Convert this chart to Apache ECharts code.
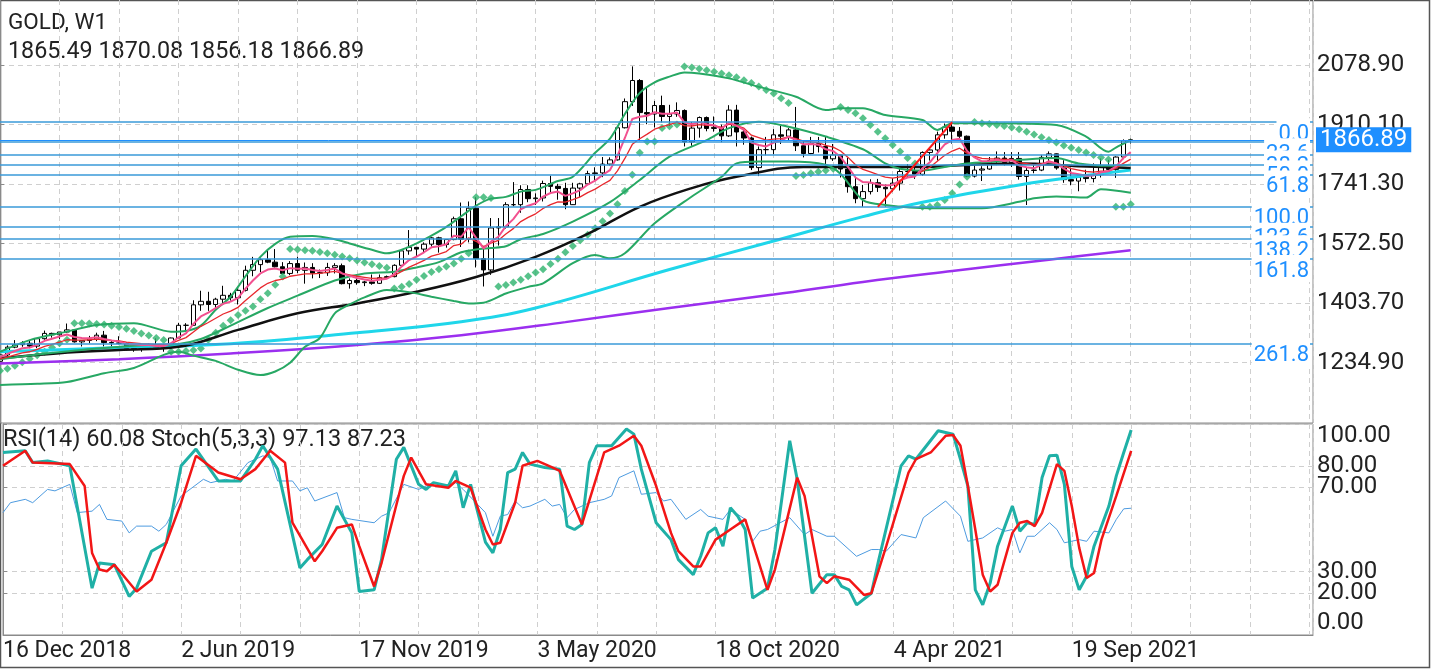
<!DOCTYPE html>
<html>
<head>
<meta charset="utf-8">
<title>GOLD, W1</title>
<script src="https://cdn.jsdelivr.net/npm/echarts@6.0.0/dist/echarts.min.js"></script>
<style>
  html, body { margin: 0; padding: 0; background: #fff; }
  #chart { width: 1431px; height: 669px; }
</style>
</head>
<body>
<div id="chart"></div>
<script>
// weekly bars, week 0 = 16 Dec 2018
const dateLabels = ['16 Dec 2018', '2 Jun 2019', '17 Nov 2019', '3 May 2020', '18 Oct 2020', '4 Apr 2021', '19 Sep 2021'];
const weeksPerLabel = 24;

const opens = [1239,1257,1279,1286,1290,1282,1303,1318,1314,1322,1328,1294,1298,1302,1313,1292,1291,1290,1275,1286,
  1280,1286,1277,1283,1305,1341,1341,1399,1409,1400,1415,1426,1419,1440,1497,1513,1527,1520,1507,1488,
  1516,1497,1505,1489,1490,1505,1510,1459,1468,1462,1464,1460,1476,1479,1511,1552,1562,1557,1571,1589,
  1570,1584,1643,1585,1673,1530,1498,1617,1620,1683,1683,1726,1700,1702,1743,1735,1729,1683,1730,1742,
  1771,1773,1798,1810,1901,1975,2035,1944,1940,1964,1933,1940,1950,1861,1900,1930,1899,1902,1878,1951,
  1889,1872,1788,1839,1839,1881,1877,1895,1850,1828,1856,1848,1813,1824,1784,1734,1700,1720,1745,1732,
  1728,1744,1777,1777,1769,1831,1838,1881,1903,1891,1877,1764,1781,1784,1808,1815,1802,1814,1763,1780,
  1781,1817,1827,1787,1754,1750,1761,1757,1768,1793,1783,1818,1865.49];
const highs = [1260,1284,1299,1296,1298,1304,1326,1320,1322,1346,1330,1299,1311,1320,1325,1297,1310,1292,1288,1288,
  1289,1304,1287,1306,1348,1347,1412,1439,1436,1419,1453,1433,1449,1510,1535,1531,1555,1557,1520,1523,
  1535,1519,1517,1499,1518,1517,1516,1474,1480,1467,1485,1485,1482,1514,1553,1611,1563,1576,1591,1592,
  1584,1649,1689,1692,1704,1560,1645,1645,1690,1747,1738,1738,1715,1751,1765,1742,1745,1745,1745,1779,
  1789,1818,1817,1902,1984,2075,2039,2015,1977,1992,1966,1973,1953,1917,1933,1933,1933,1910,1965,1966,
  1898,1876,1848,1875,1897,1906,1900,1960,1865,1875,1875,1875,1855,1825,1816,1760,1739,1755,1756,1740,
  1758,1785,1798,1790,1834,1845,1890,1913,1917,1903,1879,1795,1792,1818,1834,1832,1832,1832,1788,1795,
  1824,1834,1828,1809,1788,1764,1782,1800,1814,1810,1820,1868,1870.08];
const lows = [1236,1254,1276,1280,1276,1276,1300,1306,1302,1320,1292,1281,1290,1296,1281,1281,1287,1270,1266,1266,
  1278,1274,1266,1278,1305,1322,1339,1382,1382,1386,1402,1411,1400,1437,1480,1492,1517,1505,1485,1483,
  1489,1459,1474,1475,1481,1488,1457,1445,1456,1452,1456,1458,1473,1477,1508,1541,1536,1546,1564,1547,
  1561,1582,1563,1576,1505,1451,1484,1567,1615,1678,1660,1690,1682,1692,1717,1697,1670,1682,1705,1740,
  1748,1761,1794,1808,1899,1963,1863,1911,1902,1916,1906,1932,1848,1850,1873,1891,1890,1860,1875,1848,
  1853,1781,1764,1823,1826,1855,1864,1835,1817,1826,1831,1785,1807,1760,1717,1687,1677,1712,1719,1677,
  1720,1723,1762,1756,1765,1808,1808,1870,1856,1866,1761,1760,1750,1782,1795,1794,1790,1754,1682,1772,
  1778,1803,1782,1745,1738,1721,1746,1746,1760,1770,1759,1812,1856.18];
const closes = [1257,1279,1286,1290,1282,1303,1318,1314,1322,1328,1294,1298,1302,1313,1292,1291,1290,1275,1286,1280,
  1286,1277,1283,1305,1341,1341,1399,1409,1400,1415,1426,1419,1440,1497,1513,1527,1520,1507,1488,1516,
  1497,1505,1489,1490,1505,1510,1459,1468,1462,1464,1460,1476,1479,1511,1552,1562,1557,1571,1589,1570,
  1584,1643,1585,1673,1530,1498,1617,1620,1683,1683,1726,1700,1702,1743,1735,1729,1683,1730,1742,1771,
  1773,1798,1810,1901,1975,2035,1944,1940,1964,1933,1940,1950,1861,1900,1930,1899,1902,1878,1951,1889,
  1872,1788,1839,1839,1881,1877,1895,1850,1828,1856,1848,1813,1824,1784,1734,1700,1720,1745,1732,1728,
  1744,1777,1777,1769,1831,1838,1881,1903,1891,1877,1764,1781,1784,1808,1815,1802,1814,1763,1780,1781,
  1817,1827,1787,1754,1750,1761,1757,1768,1793,1783,1818,1864,1866.89];

// moving averages, [week, price]
const ma200 = [[0,1233],[16,1245],[31,1261],[48,1285],[62,1313],[76,1350],[90,1390],[104,1428],[116,1464],[128,1495],[141,1527],[152,1554]];
const ma100 = [[0,1266],[16,1278],[31,1289],[48,1320],[62,1351],[72,1390],[90,1499],[104,1580],[116,1649],[124,1690],[137,1739],[152,1781]];
const ma50 = [[0,1248],[8,1262],[16,1271],[24,1280],[32,1328],[40,1375],[48,1403],[56,1436],[64,1478],[72,1535],[79,1600],
  [86,1677],[93,1730],[99,1762],[108,1790],[116,1790],[124,1790],[129,1795],[137,1800],[145,1792],[152,1787]];
const fastMa = [1250,1260,1268,1276,1278,1286,1297,1303,1309,1315,1308,1305,1304,1307,1302,1298,1295,1288,1287,1285,
  1285,1282,1282,1290,1307,1318,1345,1366,1377,1390,1402,1408,1419,1445,1468,1488,1499,1502,1497,1503,
  1501,1502,1498,1495,1498,1502,1488,1481,1475,1471,1467,1470,1473,1486,1508,1526,1536,1548,1562,1565,
  1571,1595,1592,1619,1589,1559,1578,1592,1622,1642,1670,1680,1687,1706,1716,1720,1708,1715,1724,1740,
  1751,1767,1781,1821,1872,1926,1932,1935,1945,1941,1941,1944,1916,1911,1917,1911,1908,1898,1916,1907,
  1895,1859,1852,1848,1859,1865,1875,1867,1854,1855,1853,1840,1835,1818,1790,1760,1747,1746,1741,1737,
  1739,1752,1760,1763,1786,1803,1829,1854,1866,1870,1835,1817,1806,1807,1810,1807,1809,1794,1789,1786,
  1796,1806,1800,1785,1773,1769,1765,1766,1775,1778,1791,1815,1832];
const slowMa = [1245,1251,1257,1263,1266,1273,1281,1287,1293,1300,1299,1299,1300,1302,1300,1298,1297,1293,1291,1289,
  1288,1286,1286,1289,1298,1306,1322,1338,1349,1361,1373,1381,1392,1411,1429,1447,1460,1468,1472,1480,
  1483,1487,1487,1488,1491,1494,1488,1484,1480,1477,1474,1475,1475,1482,1494,1506,1515,1525,1537,1543,
  1550,1567,1571,1589,1579,1564,1574,1582,1600,1615,1635,1647,1657,1672,1683,1691,1690,1697,1705,1717,
  1727,1740,1752,1779,1814,1854,1870,1883,1897,1904,1910,1917,1907,1906,1910,1908,1907,1902,1911,1907,
  1900,1880,1873,1866,1869,1870,1875,1870,1863,1861,1859,1851,1846,1835,1817,1796,1783,1776,1768,1761,
  1758,1762,1765,1766,1778,1789,1806,1823,1835,1843,1829,1820,1814,1813,1813,1811,1811,1802,1799,1796,
  1799,1804,1801,1793,1785,1781,1777,1775,1778,1778,1786,1800,1812];

// bollinger bands
const bbUpper = [[0,1266],[4,1299],[9,1323],[13,1342],[18,1347],[23,1323],[25,1325],[27,1340],[29,1385],[31,1422],[33,1480],
  [35,1535],[37,1572],[39,1592],[42,1594],[45,1585],[47,1573],[50,1555],[52,1545],[54,1555],[56,1573],[58,1595],[60,1620],
  [62,1650],[64,1680],[66,1700],[68,1705],[70,1720],[72,1725],[75,1750],[77,1762],[80,1830],[82,1870],[84,1940],[86,2000],
  [88,2030],[90,2046],[92,2058],[94,2055],[98,2041],[102,2017],[107,1989],[111,1951],[113,1956],[116,1956],[119,1937],
  [124,1923],[126,1895],[128,1914],[133,1914],[142,1909],[146,1876],[149,1833],[150,1845],[152,1866]];
const bbMiddle = [[0,1245],[6,1260],[13,1275],[20,1285],[24,1288],[27,1302],[31,1340],[36,1390],[40,1425],[45,1468],[49,1488],
  [53,1493],[56,1505],[59,1520],[62,1548],[64,1556],[66,1560],[68,1565],[70,1585],[73,1600],[77,1635],[82,1690],[86,1753],
  [90,1819],[95,1866],[98,1900],[102,1918],[106,1904],[111,1876],[116,1840],[119,1800],[121,1785],[124,1780],[127,1790],
  [130,1800],[134,1805],[137,1810],[142,1815],[145,1800],[149,1793],[152,1796]];
const bbLower = [[0,1172],[5,1175],[9,1180],[14,1205],[18,1220],[22,1257],[24,1266],[26,1255],[29,1240],[32,1215],[35,1200],
  [37,1210],[39,1235],[41,1280],[43,1305],[45,1375],[47,1400],[49,1420],[52,1441],[55,1435],[58,1422],[61,1410],[63,1403],
  [65,1405],[68,1431],[71,1450],[73,1460],[77,1517],[80,1540],[82,1531],[84,1545],[88,1630],[93,1706],[97,1762],[99,1800],
  [102,1805],[106,1805],[111,1796],[113,1770],[116,1696],[119,1682],[125,1673],[132,1673],[137,1691],[139,1701],[142,1706],
  [146,1703],[148,1727],[152,1717]];

// parabolic SAR, one dot per week
const sar = [1212,1218,1226,1236,1246,1256,1266,1278,1290,1300,
  1347,1347,1346,1345,1343,1340,1336,1331,1325,1318,1312,1305,1299,
  1266,1266,1268,1270,1275,1300,1320,1340,1355,1370,1382,1394,1415,1432,1456,1479,
  1557,1556,1554,1552,1549,1545,1541,1536,1531,1525,1519,1514,1509,1504,
  1445,1450,1458,1470,1481,1492,1500,1508,1516,1530,1545,
  1704,1704,1702,
  1451,1455,1462,1470,1480,1491,1500,1515,1530,1548,1566,1582,1598,1616,1636,1658,1684,1722,1768,1830,1862,1862,1900,1905,1910,
  2075,2072,2068,2064,2060,2055,2050,2044,2036,2028,2018,2008,1998,1985,1971,
  1764,1767,1772,1776,1780,1785,
  1960,1951,1942,1928,1909,1890,1871,1852,1834,1815,1800,
  1677,1677,1682,1696,1715,1740,1762,
  1917,1914,1912,1909,1906,1902,1897,1890,1882,1874,1866,1859,1851,1844,1838,1831,1824,1817,1811,
  1677,1677,1684];

// fibonacci retracement (high 1916.64, low 1676.87)
const fibLabels = ['0.0', '23.6', '38.2', '50.0', '61.8', '100.0', '123.6', '138.2', '161.8', '261.8'];
const fibPrices = [1916.64, 1860.05, 1825.05, 1796.76, 1768.46, 1676.87, 1620.28, 1585.28, 1528.69, 1288.92];
const fibAnchor = [[118, 1676.87], [128, 1916.64]];
const lastPrice = 1866.89;
const priceTicks = [1234.90, 1403.70, 1572.50, 1741.30, 1910.10, 2078.90];

// lower pane
const stochK = [[0,86.5],[3,87.3],[4,81.7],[6,82.5],[9,80.2],[12,22.2],[13,34.1],[15,33.3],[17,18.3],[18,22.2],[20,39.7],
  [22,43.7],[24,80.2],[26,88.1],[29,73.0],[32,73.0],[34,83.3],[35,89.7],[37,78.6],[40,31.8],[41,35.7],[43,42.9],[45,61.1],
  [47,48.4],[48,20.6],[50,21.4],[51,35.7],[53,83.3],[54,88.9],[56,71.4],[57,69.0],[58,72.2],[60,70.6],[61,77.8],[62,60.3],
  [63,71.4],[65,44.0],[66,38.9],[67,50.0],[68,77.0],[69,78.6],[70,86.5],[71,81.0],[73,79.4],[75,78.6],[76,51.6],[77,50.0],
  [78,52.4],[79,81.7],[80,89.7],[82,89.7],[84,97.6],[85,95.2],[86,78.6],[88,53.2],[90,45.2],[91,35.7],[93,28.6],[94,37.3],
  [95,48.4],[96,50.8],[97,42.1],[98,60.3],[99,56.3],[100,50.0],[101,17.5],[103,22.2],[104,40.5],[106,92.1],[107,73.8],
  [109,19.8],[111,28.6],[112,28.6],[113,23.0],[114,21.4],[115,14.3],[117,19.8],[118,35.7],[121,80.2],[122,84.9],[123,83.3],
  [126,96.8],[127,96.0],[128,95.2],[129,83.3],[130,70.6],[131,21.4],[132,14.3],[133,24.6],[134,42.1],[136,61.1],[137,49.2],
  [138,53.2],[139,52.4],[140,74.6],[141,84.9],[142,85.2],[143,71.4],[144,32.5],[145,21.4],[146,27.8],[147,42.1],[149,61.1],
  [150,75.4],[151,86.5],[152,97.13]];
const stochD = [[0,80.2],[3,87.3],[4,81.7],[9,81.0],[11,70.6],[12,38.9],[13,31.0],[14,30.2],[15,33.3],[18,20.6],[20,26.2],
  [22,43.7],[24,62.7],[26,84.9],[29,77.0],[32,73.8],[34,78.6],[36,87.3],[38,81.7],[39,53.2],[42,34.9],[43,39.7],[45,50.8],
  [47,52.4],[48,42.1],[50,23.0],[51,34.1],[54,75.4],[55,84.1],[57,71.4],[60,69.8],[61,73.0],[63,69.8],[65,50.0],[66,42.9],
  [67,43.7],[69,62.7],[70,80.2],[72,82.5],[74,79.4],[75,77.8],[78,52.4],[81,86.5],[83,89.7],[85,94.4],[86,89.7],[88,70.6],
  [90,48.4],[91,39.7],[93,32.5],[94,32.5],[96,45.2],[98,50.0],[100,54.8],[103,21.4],[104,31.0],[107,74.6],[108,65.9],
  [110,27.8],[111,24.6],[112,27.8],[114,26.2],[116,19.0],[117,19.8],[119,42.1],[122,77.0],[123,83.3],[125,86.5],[127,94.4],
  [128,94.8],[129,89.7],[130,70.6],[131,50.0],[132,28.6],[133,20.6],[134,23.8],[136,48.4],[137,53.2],[138,54.0],[139,51.6],
  [140,57.9],[142,81.0],[143,77.8],[144,61.1],[145,41.3],[146,27.0],[147,29.4],[148,45.2],[150,65.9],[152,87.23]];
const rsi = [[0,58.0],[1,62.7],[3,64.3],[4,62.7],[6,69.0],[7,68.3],[9,71.4],[10,58.0],[12,58.7],[13,61.9],[14,54.8],[16,54.0],
  [17,48.4],[18,51.6],[20,51.6],[21,49.2],[22,52.4],[24,65.9],[27,73.8],[28,72.2],[30,73.8],[31,73.0],[33,81.7],[35,84.9],
  [36,84.1],[37,73.0],[39,73.0],[40,68.3],[41,69.8],[42,63.5],[45,67.5],[46,55.6],[47,54.8],[50,53.2],[51,56.3],[52,57.9],
  [54,71.4],[56,69.0],[58,72.2],[60,70.6],[61,72.2],[62,69.0],[65,58.0],[66,46.8],[67,56.3],[68,57.1],[69,63.5],[70,60.3],
  [71,61.1],[73,64.3],[74,61.1],[75,61.9],[76,55.6],[77,59.5],[79,62.7],[81,64.3],[82,65.9],[83,74.6],[85,77.8],[86,66.7],
  [88,67.5],[89,63.5],[90,64.3],[92,54.8],[94,59.5],[95,56.3],[97,54.8],[98,59.5],[100,54.8],[101,44.4],[102,49.2],
  [103,50.0],[106,55.6],[108,47.6],[109,50.0],[111,46.8],[112,46.8],[115,37.3],[117,40.5],[118,40.5],[119,39.7],[121,47.6],
  [123,46.0],[124,55.6],[127,63.5],[129,56.3],[130,44.4],[132,46.0],[134,50.8],[135,49.2],[136,50.0],[137,38.9],[138,46.8],
  [139,46.8],[141,53.2],[142,50.0],[143,43.7],[145,45.2],[146,44.4],[147,49.2],[149,48.4],[150,54.8],[151,59.8],[152,60.08]];
const oscTicks = [0, 20, 30, 70, 80, 100];

const FONT = 'Roboto';
const gridLine = { show: true, lineStyle: { color: '#cfcfcf', type: [5, 4], width: 1 } };

function line(name, data, color, width, extra) {
  return Object.assign({
    name: name, type: 'line', data: data, showSymbol: false, symbol: 'none',
    lineStyle: { color: color, width: width }, silent: true
  }, extra || {});
}

const chart = echarts.init(document.getElementById('chart'));
chart.setOption({
  animation: false,
  backgroundColor: '#fff',
  textStyle: { fontFamily: FONT },
  grid: [
    { left: 0, top: 0, width: 1313, height: 423, show: true, borderColor: '#8a8a8a', borderWidth: 1 },
    { left: 0, top: 424, width: 1313, height: 211, show: true, borderColor: '#8a8a8a', borderWidth: 1 }
  ],
  xAxis: [
    { type: 'value', gridIndex: 0, min: 0, max: 176.5, interval: 8,
      axisLine: { show: false }, axisTick: { show: false }, axisLabel: { show: false }, splitLine: gridLine },
    { type: 'value', gridIndex: 1, min: 0, max: 176.5, interval: 8,
      axisLine: { show: true, lineStyle: { color: '#8a8a8a' } }, axisTick: { show: false },
      axisLabel: {
        color: '#222', fontSize: 23, fontFamily: FONT, align: 'left', margin: 5,
        formatter: function (v) {
          const k = v / weeksPerLabel;
          return (Number.isInteger(k) && k < dateLabels.length) ? dateLabels[k] : '';
        }
      },
      splitLine: gridLine }
  ],
  yAxis: [
    { type: 'value', gridIndex: 0, position: 'right', min: 1064, max: 2263.2,
      axisLine: { show: true, lineStyle: { color: '#8a8a8a' } },
      axisTick: { show: true, length: 4, customValues: priceTicks, lineStyle: { color: '#8a8a8a' } },
      axisLabel: { customValues: priceTicks, color: '#222', fontSize: 24, fontFamily: FONT, margin: 4,
        formatter: function (v) { return v.toFixed(2); } },
      splitLine: gridLine },
    { type: 'value', gridIndex: 1, position: 'right', min: 0, max: 100,
      axisLine: { show: true, lineStyle: { color: '#8a8a8a' } },
      axisTick: { show: true, length: 4, customValues: oscTicks, lineStyle: { color: '#8a8a8a' } },
      axisLabel: { customValues: oscTicks, color: '#222', fontSize: 24, fontFamily: FONT, margin: 4,
        verticalAlignMinLabel: 'bottom', verticalAlignMaxLabel: 'top',
        formatter: function (v) { return v.toFixed(2); } },
      splitLine: gridLine }
  ],
  series: [
    {
      // level captions; each white box hides the lower part of the caption above it
      name: 'fib captions', type: 'line', data: [], xAxisIndex: 0, yAxisIndex: 0, clip: false, silent: true,
      markLine: {
        silent: true, symbol: ['none', 'none'], animation: false,
        lineStyle: { color: 'rgba(0,0,0,0)', width: 1 },
        label: { position: 'insideEndBottom', color: '#1e8fff', fontSize: 22, fontFamily: FONT,
          distance: [3, -4], padding: [5, 1, 0, 2], backgroundColor: '#fff' },
        data: fibPrices.map(function (p, k) {
          return { yAxis: p, label: { formatter: fibLabels[k] } };
        })
      }
    },
    {
      name: 'fib', type: 'line', data: [], xAxisIndex: 0, yAxisIndex: 0, clip: false, silent: true,
      markLine: {
        silent: true, symbol: ['none', 'none'], animation: false,
        lineStyle: { color: '#3a9ad9', width: 1.5, type: 'solid' },
        label: { show: false },
        data: fibPrices.map(function (p) { return { yAxis: p }; }).concat([{
          yAxis: lastPrice, lineStyle: { color: '#1e8fff', width: 1 },
          label: { show: true, position: 'end', formatter: lastPrice.toFixed(2), color: '#fff', backgroundColor: '#1e8fff',
            fontSize: 24, fontFamily: FONT, padding: [1, 4, 0, 4], distance: 3 }
        }])
      }
    },
    {
      name: 'GOLD', type: 'candlestick', xAxisIndex: 0, yAxisIndex: 0, silent: true, barWidth: 5,
      data: opens.map(function (o, i) { return [i, o, closes[i], lows[i], highs[i]]; }),
      encode: { x: 0, y: [1, 2, 3, 4] },
      itemStyle: { color: '#fff', color0: '#000', borderColor: '#000', borderColor0: '#000', borderWidth: 1 }
    },
    line('MA200', ma200, '#9b2fef', 2.5, { smooth: 0.4 }),
    line('MA100', ma100, '#1fd6ea', 3, { smooth: 0.4 }),
    line('MA50', ma50, '#111', 2.5, { smooth: 0.4 }),
    line('BB upper', bbUpper, '#27a864', 2, { smooth: 0.3 }),
    line('BB middle', bbMiddle, '#27a864', 2, { smooth: 0.3 }),
    line('BB lower', bbLower, '#27a864', 2, { smooth: 0.3 }),
    line('MA slow', slowMa.map(function (v, i) { return [i, v]; }), '#e8282e', 1.3),
    line('MA fast', fastMa.map(function (v, i) { return [i, v]; }), '#f2508f', 2),
    {
      name: 'SAR', type: 'scatter', xAxisIndex: 0, yAxisIndex: 0, silent: true,
      symbol: 'diamond', symbolSize: 8, itemStyle: { color: '#2db36d' },
      data: sar.map(function (v, i) { return [i, v]; })
    },
    {
      name: 'fib anchor', type: 'line', data: [], xAxisIndex: 0, yAxisIndex: 0, silent: true,
      markLine: {
        silent: true, symbol: ['none', 'none'], animation: false, label: { show: false },
        lineStyle: { color: '#ff1a1a', width: 2, type: 'solid' },
        data: [[{ coord: fibAnchor[0] }, { coord: fibAnchor[1] }]]
      }
    },
    line('RSI(14)', rsi, '#4d9be0', 1, { xAxisIndex: 1, yAxisIndex: 1 }),
    line('%K', stochK, '#1fb0a6', 3, { xAxisIndex: 1, yAxisIndex: 1 }),
    line('%D', stochD, '#f21616', 2.5, { xAxisIndex: 1, yAxisIndex: 1 })
  ],
  graphic: [
    { type: 'rect', silent: true, shape: { x: 0.5, y: 0.5, width: 1429, height: 667 },
      style: { fill: 'none', stroke: '#555', lineWidth: 1.5 } },
    { type: 'text', left: 8, top: 12, silent: true,
      style: { text: 'GOLD, W1', fill: '#222', font: '22.5px ' + FONT } },
    { type: 'text', left: 8, top: 41, silent: true,
      style: { text: opens[152].toFixed(2) + ' ' + highs[152].toFixed(2) + ' ' + lows[152].toFixed(2) + ' ' + closes[152].toFixed(2),
        fill: '#222', font: '23.3px ' + FONT } },
    { type: 'text', left: 3, top: 428, silent: true,
      style: { text: 'RSI(14) 60.08 Stoch(5,3,3) 97.13 87.23', fill: '#222', font: '23.5px ' + FONT } }
  ]
});
</script>
</body>
</html>
